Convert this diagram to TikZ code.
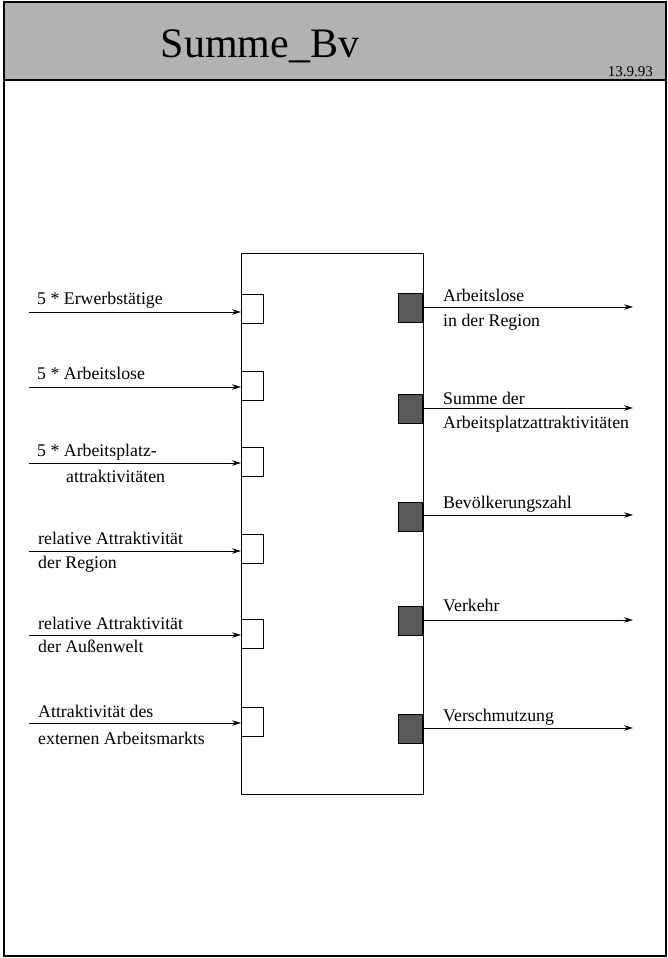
\documentclass[tikz,border=0pt]{standalone}
\usepackage{fontspec}
\setmainfont{Liberation Serif}
\usetikzlibrary{arrows.meta}
\begin{document}
\begin{tikzpicture}[x=1pt,y=-1pt,
  frame/.style={line width=1.1pt},
  block/.style={draw, line width=1pt, inner sep=0pt, anchor=north west,
    minimum width=182pt, minimum height=541pt},
  inport/.style={draw, line width=0.9pt, fill=white, inner sep=0pt, anchor=west,
    minimum width=22pt, minimum height=29pt},
  outport/.style={draw, line width=0.9pt, fill=black!65, inner sep=0pt, anchor=east,
    minimum width=24pt, minimum height=29pt},
  flow/.style={line width=0.9pt, -{Stealth[length=9pt,width=5.5pt]}},
  lbl/.style={anchor=base west, inner sep=0pt, font=\fontsize{17.8}{21}\selectfont},
]
\useasboundingbox (0,0) rectangle (668,958);

% sheet frame and title band
\fill[black!30] (4,2) rectangle (666,80);
\draw[frame] (4,2) rectangle (666,956);
\draw[frame] (4,80) -- (666,80);
\node[anchor=base, inner sep=0pt, font=\fontsize{42}{48}\selectfont] (title) at (260,57) {Summe\_Bv};
\node[anchor=base east, inner sep=0pt, font=\fontsize{15}{17}\selectfont] (date) at (653,76) {13.9.93};

% the block
\node[block] (blk) at (241,253) {};

% input ports
\node[inport] (i1) at (241,309) {};
\node[inport] (i2) at (241,386) {};
\node[inport] (i3) at (241,462) {};
\node[inport] (i4) at (241,549) {};
\node[inport] (i5) at (241,634) {};
\node[inport] (i6) at (241,722) {};

% output ports
\node[outport] (o1) at (423,307.5) {};
\node[outport] (o2) at (423,408.5) {};
\node[outport] (o3) at (423,516.5) {};
\node[outport] (o4) at (423,620.5) {};
\node[outport] (o5) at (423,729) {};

% input connectors
\coordinate (s1) at (29,312);
\coordinate (s2) at (29,387);
\coordinate (s3) at (29,463);
\coordinate (s4) at (29,551);
\coordinate (s5) at (29,635);
\coordinate (s6) at (29,723);
\foreach \k in {1,...,6}
  \draw[flow] (s\k) -- (s\k -| i\k.west);

% output connectors
\coordinate (e1) at (633,307);
\coordinate (e2) at (633,408);
\coordinate (e3) at (633,515);
\coordinate (e4) at (633,620);
\coordinate (e5) at (633,728);
\foreach \k in {1,...,5}
  \draw[flow] (o\k.east |- e\k) -- (e\k);

% input labels
\node[lbl] (l1) at (37,304) {5 * Erwerbstätige};
\node[lbl] (l2) at (37,379) {5 * Arbeitslose};
\node[lbl] (l3a) at (37,456) {5 * Arbeitsplatz-};
\node[lbl] (l3b) at (66,482) {attraktivitäten};
\node[lbl] (l4a) at (38,544) {relative Attraktivität};
\node[lbl] (l4b) at (38,568) {der Region};
\node[lbl] (l5a) at (38,629) {relative Attraktivität};
\node[lbl] (l5b) at (38,652) {der Außenwelt};
\node[lbl] (l6a) at (38,717) {Attraktivität des};
\node[lbl] (l6b) at (38,744) {externen Arbeitsmarkts};

% output labels
\node[lbl] (r1a) at (443,301) {Arbeitslose};
\node[lbl] (r1b) at (443,326) {in der Region};
\node[lbl] (r2a) at (443,404) {Summe der};
\node[lbl] (r2b) at (443,428) {Arbeitsplatzattraktivitäten};
\node[lbl] (r3) at (443,508) {Bevölkerungszahl};
\node[lbl] (r4) at (443,611) {Verkehr};
\node[lbl] (r5) at (443,721) {Verschmutzung};
\end{tikzpicture}
\end{document}
